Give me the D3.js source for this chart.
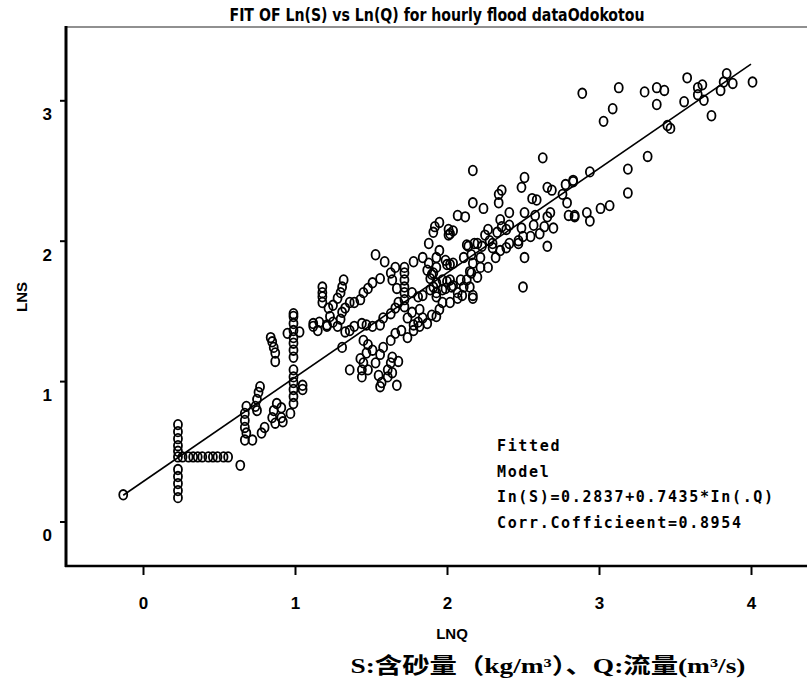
<!DOCTYPE html>
<html>
<head>
<meta charset="utf-8">
<script src="https://cdn.jsdelivr.net/npm/d3@7"></script>
<style>
  body { margin: 0; background: #fff; }
  svg { display: block; }
</style>
</head>
<body>
<script>
// 观测点 [ln(Q), ln(S)]
const points = [
  [2.89,3.05],[3.13,3.09],[3.09,2.94],[3.03,2.85],[3.30,3.06],[3.38,3.09],[3.43,3.07],[3.38,2.97],
  [3.58,3.16],[3.56,2.99],[3.65,3.09],[3.68,3.11],[3.65,3.04],[3.69,3.00],[3.74,2.89],[3.80,3.07],
  [3.84,3.19],[3.82,3.13],[3.88,3.12],[4.01,3.13],[3.45,2.82],[3.47,2.80],[3.32,2.60],[3.19,2.51],
  [3.19,2.34],[2.94,2.49],[2.83,2.42],[3.07,2.25],[3.01,2.23],[2.92,2.20],[2.84,2.18],[2.94,2.14],
  [2.63,2.59],[2.17,2.50],[2.51,2.45],[2.49,2.38],[2.36,2.36],[2.34,2.33],[2.34,2.27],[2.17,2.27],
  [2.24,2.23],[2.07,2.18],[2.12,2.17],[1.95,2.13],[1.92,2.10],[2.01,2.08],[2.04,2.07],[2.01,2.04],
  [2.41,2.20],[2.51,2.20],[2.56,2.30],[2.59,2.29],[2.66,2.38],[2.69,2.36],[2.78,2.40],[2.83,2.43],
  [2.76,2.33],[2.79,2.27],[2.80,2.18],[2.84,2.17],[2.66,2.17],[2.68,2.20],[2.58,2.18],[2.49,2.09],
  [2.57,2.11],[2.64,2.10],[2.70,2.09],[2.61,2.05],[2.55,2.03],[2.50,2.03],[2.47,2.00],[2.41,2.11],
  [2.35,2.15],[2.36,2.10],[2.39,2.08],[2.33,2.06],[2.27,2.08],[2.25,2.04],[2.28,2.00],[2.30,1.98],
  [2.41,1.98],[2.47,1.98],[2.39,1.95],[2.35,1.93],[2.30,1.95],[2.32,1.88],[2.23,1.96],[2.20,1.98],
  [2.14,1.96],[2.22,1.88],[2.16,1.90],[2.11,1.88],[2.66,1.96],[2.51,1.88],[2.50,1.67],[1.95,1.93],
  [1.93,1.88],[1.99,1.86],[2.02,1.83],[1.93,1.81],[1.91,1.77],[2.22,1.81],[2.27,1.81],[2.16,1.77],
  [2.20,1.74],[2.13,1.72],[2.09,1.72],[2.02,1.72],[1.97,1.72],[2.03,1.67],[1.97,1.65],[2.07,1.63],
  [2.11,1.67],[2.17,1.61],[2.15,1.67],[1.93,1.60],[1.97,1.56],[1.91,1.67],
  [1.91,2.06],[2.02,2.05],[1.88,1.98],[2.13,1.97],[2.18,1.98],[1.53,1.90],[1.59,1.85],[1.66,1.81],
  [1.72,1.81],[1.78,1.85],[1.84,1.88],[1.88,1.84],[2.00,1.83],[2.04,1.84],[1.72,1.77],[1.72,1.72],
  [1.72,1.67],[1.72,1.63],[1.72,1.58],[1.87,1.79],[1.90,1.76],[1.89,1.73],[1.63,1.77],[1.64,1.72],
  [1.67,1.66],[1.77,1.63],[1.81,1.60],[1.84,1.61],[1.89,1.65],[1.93,1.63],[1.99,1.66],[2.04,1.68],
  [2.15,1.78],[2.17,1.84],[2.10,1.61],[2.07,1.59],[2.02,1.56],[1.95,1.51],[1.93,1.46],[1.90,1.47],
  [1.84,1.45],[1.81,1.42],[1.78,1.40],[2.17,1.59],[2.00,1.71],[1.93,1.70],
  [1.18,1.67],[1.18,1.63],[1.18,1.60],[1.18,1.56],[1.32,1.72],[1.31,1.67],[1.30,1.63],[1.28,1.59],
  [1.25,1.54],[1.22,1.52],[1.45,1.63],[1.48,1.66],[1.56,1.73],[1.51,1.70],[1.43,1.58],[1.39,1.56],
  [1.36,1.56],[1.33,1.52],[1.31,1.49],[1.23,1.46],[1.25,1.42],[1.28,1.39],[1.21,1.39],[1.16,1.42],
  [1.12,1.41],[1.15,1.36],[1.31,1.24],[1.33,1.35],[1.36,1.36],[1.39,1.39],[1.44,1.41],[1.47,1.40],
  [1.51,1.39],[1.56,1.40],[1.58,1.45],[1.63,1.48],[1.66,1.52],[1.68,1.56],[1.72,1.53],[1.77,1.49],
  [1.74,1.45],[1.82,1.51],[1.45,1.29],[1.48,1.26],[1.51,1.22],[1.47,1.20],[1.43,1.16],[1.45,1.13],
  [1.44,1.08],[1.44,1.03],[1.48,1.08],[1.53,1.13],[1.56,1.19],[1.58,1.24],[1.63,1.29],[1.66,1.34],
  [1.70,1.36],[1.74,1.31],[1.78,1.36],[1.82,1.39],[1.87,1.41],[1.36,1.08],[1.64,1.17],[1.68,1.14],
  [1.63,1.13],[1.61,1.08],[1.55,1.04],[1.57,0.99],[1.61,1.03],[1.67,0.97],[1.56,0.96],[1.64,1.06],
  [0.99,1.48],[0.99,1.46],[0.99,1.41],[0.99,1.36],[0.99,1.31],[0.99,1.27],[0.99,1.22],[0.99,1.17],
  [0.99,1.08],[0.99,1.03],[0.99,0.99],[0.99,0.94],[0.99,0.89],[0.99,0.84],[1.03,1.35],[0.95,1.34],
  [1.05,0.97],[1.05,0.94],[1.12,1.39],[1.21,1.40],[1.30,1.44],
  [0.84,1.31],[0.85,1.28],[0.86,1.24],[0.87,1.20],[0.87,1.14],
  [0.77,0.96],[0.76,0.92],[0.75,0.87],[0.74,0.82],[0.68,0.82],[0.67,0.77],[0.67,0.72],[0.67,0.67],
  [0.68,0.63],[0.67,0.58],[0.72,0.58],[0.75,0.79],[0.88,0.84],[0.86,0.79],[0.91,0.81],[0.85,0.74],
  [0.91,0.74],[0.87,0.70],[0.92,0.71],[0.97,0.77],[0.80,0.67],[0.78,0.63],[0.64,0.40],
  [0.23,0.69],[0.23,0.64],[0.23,0.59],[0.23,0.54],[0.23,0.50],[0.23,0.46],[0.23,0.37],[0.23,0.32],
  [0.23,0.27],[0.23,0.22],[0.23,0.17],[0.26,0.46],[0.30,0.46],[0.33,0.46],[0.36,0.46],[0.39,0.46],
  [0.43,0.46],[0.46,0.46],[0.49,0.46],[0.53,0.46],[0.56,0.46],[-0.13,0.19]
];

// 刻度
const xTicks = [0, 1, 2, 3, 4];
const yTicks = [0, 1, 2, 3];

// 回归系数 ln(S) = a + b*ln(Q)
const fitA = 0.2837;
const fitB = 0.7435;
const fitRange = [-0.13, 4.0];

// 注释文本
const noteLines = [
  "Fitted",
  "Model",
  "In(S)=0.2837+0.7435*In(.Q)",
  "Corr.Cofficieent=0.8954"
];

const W = 807, H = 685;
const plotLeft = 66, plotTop = 27, plotBottom = 566;

const svg = d3.select("body").append("svg")
  .attr("width", W)
  .attr("height", H);

const x = d3.scaleLinear().domain([0, 4]).range([143, 751]);
const y = d3.scaleLinear().domain([0, 3]).range([521.5, 100.3]);

// 标题
svg.append("text")
  .attr("x", 437)
  .attr("y", 21)
  .attr("text-anchor", "middle")
  .attr("textLength", 415)
  .attr("lengthAdjust", "spacingAndGlyphs")
  .style("font-family", "'Liberation Sans Narrow', 'DejaVu Sans Condensed', sans-serif")
  .style("font-weight", "bold")
  .style("font-size", "17px")
  .text("FIT OF Ln(S) vs Ln(Q) for hourly flood dataOdokotou");

// 边框
svg.append("line")
  .attr("x1", plotLeft).attr("x2", W)
  .attr("y1", plotTop).attr("y2", plotTop)
  .attr("stroke", "#222").attr("stroke-width", 1.2);

// 坐标轴
const yAxis = svg.append("g")
  .attr("transform", `translate(${plotLeft},0)`)
  .call(d3.axisLeft(y).tickValues(yTicks).tickSize(6).tickPadding(8).tickFormat(d3.format("d")));

const xAxis = svg.append("g")
  .attr("transform", `translate(0,${plotBottom})`)
  .call(d3.axisBottom(x).tickValues(xTicks).tickSize(9).tickPadding(22).tickFormat(d3.format("d")));

[yAxis, xAxis].forEach(g => {
  g.select(".domain").remove();
  g.selectAll(".tick line").attr("stroke", "#000").attr("stroke-width", 2);
  g.selectAll(".tick text")
    .attr("fill", "#000")
    .style("font-family", "'Liberation Sans', Arial, sans-serif")
    .style("font-weight", "bold")
    .style("font-size", "17px");
});

// 纵轴标签略低于刻度线（按原图）
yAxis.selectAll(".tick text").attr("y", 14);

svg.append("line")
  .attr("x1", plotLeft).attr("x2", plotLeft)
  .attr("y1", plotTop - 1).attr("y2", plotBottom + 1)
  .attr("stroke", "#000").attr("stroke-width", 3);

svg.append("line")
  .attr("x1", plotLeft - 1).attr("x2", W)
  .attr("y1", plotBottom).attr("y2", plotBottom)
  .attr("stroke", "#000").attr("stroke-width", 2.5);

// 轴标题
svg.append("text")
  .attr("transform", "translate(27,297) rotate(-90)")
  .attr("text-anchor", "middle")
  .style("font-family", "'Liberation Sans Narrow', sans-serif")
  .style("font-weight", "bold")
  .style("font-size", "15px")
  .text("LNS");

svg.append("text")
  .attr("x", 452)
  .attr("y", 639)
  .attr("text-anchor", "middle")
  .style("font-family", "'Liberation Sans Narrow', sans-serif")
  .style("font-weight", "bold")
  .style("font-size", "15px")
  .text("LNQ");

// 回归线
svg.append("line")
  .attr("x1", x(fitRange[0])).attr("y1", y(fitA + fitB * fitRange[0]))
  .attr("x2", x(fitRange[1])).attr("y2", y(fitA + fitB * fitRange[1]))
  .attr("stroke", "#000").attr("stroke-width", 1.6);

// 散点
svg.append("g")
  .selectAll("ellipse")
  .data(points)
  .join("ellipse")
  .attr("cx", d => x(d[0]))
  .attr("cy", d => y(d[1]))
  .attr("rx", 4)
  .attr("ry", 4.8)
  .attr("fill", "none")
  .attr("stroke", "#000")
  .attr("stroke-width", 1.8);

// 注释
svg.append("g")
  .selectAll("text")
  .data(noteLines)
  .join("text")
  .attr("x", 497)
  .attr("y", (d, i) => 451 + i * 25.5)
  .style("font-family", "'DejaVu Sans Mono', monospace")
  .style("font-weight", "bold")
  .style("font-size", "15px")
  .style("letter-spacing", "1.65px")
  .text(d => d);

// 单位说明
svg.append("text")
  .attr("x", 548)
  .attr("y", 673)
  .attr("text-anchor", "middle")
  .attr("textLength", 395)
  .attr("lengthAdjust", "spacingAndGlyphs")
  .style("font-family", "'Liberation Serif', 'Noto Sans CJK SC', serif")
  .style("font-weight", "bold")
  .style("font-size", "22px")
  .text("S:含砂量（kg/m³）、Q:流量(m³/s)");
</script>
</body>
</html>
